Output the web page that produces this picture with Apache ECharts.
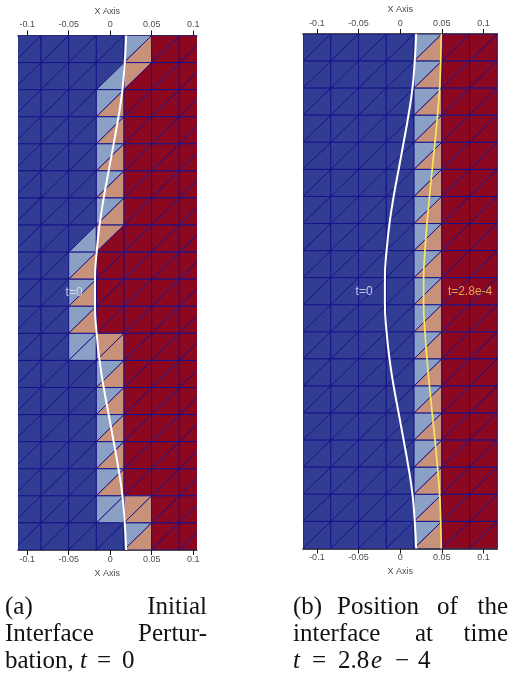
<!DOCTYPE html>
<html>
<head>
<meta charset="utf-8">
<script src="https://cdn.jsdelivr.net/npm/echarts@6/dist/echarts.min.js"></script>
<style>
html, body { margin: 0; padding: 0; background: #fff; }
#main { width: 509px; height: 691px; }
</style>
</head>
<body>
<div id="main"></div>
<script>
// tick labels on both x axes
var xTicks = [-0.1, -0.05, 0, 0.05, 0.1];
// mesh column boundaries (x) ; rows are unit steps 0..19, top to bottom
var colEdges = [-0.11667, -0.08333, -0.05, -0.01667, 0.01667, 0.05, 0.08333, 0.11667];
var rowCount = 19;
// two letters per cell: upper-left / lower-right triangle
// B = blue phase, R = red phase, L = light blue, T = tan (cut cells)
var cellsA = [
    'BBBBBBBBLTRRRR',
    'BBBBBBBLTRRRRR',
    'BBBBBBLTRRRRRR',
    'BBBBBBLTRRRRRR',
    'BBBBBBLTRRRRRR',
    'BBBBBBLTRRRRRR',
    'BBBBBBLTRRRRRR',
    'BBBBBLTRRRRRRR',
    'BBBBLTRRRRRRRR',
    'BBBBLTRRRRRRRR',
    'BBBBLTRRRRRRRR',
    'BBBBLLTTRRRRRR',
    'BBBBBBLTRRRRRR',
    'BBBBBBLTRRRRRR',
    'BBBBBBLTRRRRRR',
    'BBBBBBLTRRRRRR',
    'BBBBBBLTRRRRRR',
    'BBBBBBLLTTRRRR',
    'BBBBBBBBLTRRRR'
];
var cellsB = [];
for (var i = 0; i < rowCount; i++) cellsB.push('BBBBBBBBLTRRRR');

// interface curves, read at each mesh row line
var curveRows = [0, 1, 2, 3, 4, 5, 6, 7, 8, 9, 10, 11, 12, 13, 14, 15, 16, 17, 18, 19];
var initialX = [0.0193, 0.0175, 0.0148, 0.0100, 0.0042, -0.0018, -0.0078, -0.0128, -0.0163, -0.0183,
                -0.0183, -0.0163, -0.0128, -0.0078, -0.0018, 0.0042, 0.0100, 0.0148, 0.0175, 0.0193];
var laterX = [0.0494, 0.0487, 0.0474, 0.0449, 0.0418, 0.0385, 0.0352, 0.0322, 0.0298, 0.0282,
              0.0282, 0.0298, 0.0322, 0.0352, 0.0385, 0.0418, 0.0449, 0.0474, 0.0487, 0.0494];

var triColor = { B: '#313d92', R: '#8c0820', L: '#8aa0c4', T: '#c8917a' };
var edgeColor = '#17138a';

function buildCells(rows) {
    var out = [];
    rows.forEach(function (s, r) {
        for (var c = 0; c < s.length / 2; c++) {
            out.push([colEdges[c], r, colEdges[c + 1], s.charAt(2 * c), s.charAt(2 * c + 1)]);
        }
    });
    return out;
}

function curve(xs) {
    return xs.map(function (x, k) { return [x, curveRows[k]]; });
}

function renderCell(rows, params, api) {
    var x0 = api.value(0), r = api.value(1), x1 = api.value(2);
    var item = rows[params.dataIndex];
    var tl = api.coord([x0, r]), tr = api.coord([x1, r]);
    var bl = api.coord([x0, r + 1]), br = api.coord([x1, r + 1]);
    return {
        type: 'group',
        children: [
            { type: 'polygon', shape: { points: [tl, tr, bl] },
              style: { fill: triColor[item[3]], stroke: edgeColor, lineWidth: 1 } },
            { type: 'polygon', shape: { points: [bl, tr, br] },
              style: { fill: triColor[item[4]], stroke: edgeColor, lineWidth: 1 } }
        ]
    };
}

var tickFont = { color: '#4d4d4d', fontSize: 9, fontFamily: 'Liberation Sans' };

function edgeAxes(gridIndex, min, max) {
    var list = [];
    ['top', 'bottom'].forEach(function (pos) {
        list.push({
            type: 'value', gridIndex: gridIndex, position: pos, min: min, max: max,
            name: 'X Axis', nameLocation: 'middle', nameGap: pos === 'top' ? 19 : 18,
            nameTextStyle: tickFont,
            axisLine: { show: true, lineStyle: { color: '#111', width: 1.5 } },
            axisTick: { show: true, inside: false, length: 5, customValues: xTicks, lineStyle: { color: '#111' } },
            axisLabel: { show: true, margin: pos === 'top' ? 6 : 5, customValues: xTicks,
                         color: tickFont.color, fontSize: 9, fontFamily: tickFont.fontFamily,
                         formatter: function (v) { return String(+v.toFixed(2)); } },
            splitLine: { show: false }
        });
        list.push({
            type: 'value', gridIndex: gridIndex, position: pos, min: min, max: max,
            axisLine: { show: false },
            axisTick: { show: true, inside: true, length: 4, customValues: xTicks, lineStyle: { color: '#111' } },
            axisLabel: { show: false },
            splitLine: { show: false }
        });
    });
    return list;
}

var chart = echarts.init(document.getElementById('main'));

var cellDataA = buildCells(cellsA);
var cellDataB = buildCells(cellsB);

var option = {
    animation: false,
    grid: [
        { left: 18, top: 35.5, width: 178.7, height: 514.5 },
        { left: 303, top: 34, width: 194.3, height: 514.5 }
    ],
    xAxis: edgeAxes(0, -0.1111, 0.1043).concat(edgeAxes(1, -0.11667, 0.11667)),
    yAxis: [
        { type: 'value', gridIndex: 0, min: 0, max: rowCount, inverse: true, show: false },
        { type: 'value', gridIndex: 1, min: 0, max: rowCount, inverse: true, show: false }
    ],
    series: [
        {
            type: 'custom', xAxisIndex: 2, yAxisIndex: 0, clip: true,
            encode: { x: [0, 2], y: 1 },
            data: cellDataA,
            renderItem: function (params, api) { return renderCell(cellDataA, params, api); }
        },
        {
            type: 'custom', xAxisIndex: 6, yAxisIndex: 1, clip: true,
            encode: { x: [0, 2], y: 1 },
            data: cellDataB,
            renderItem: function (params, api) { return renderCell(cellDataB, params, api); }
        },
        {
            type: 'line', xAxisIndex: 2, yAxisIndex: 0, smooth: 0.5, symbol: 'none',
            lineStyle: { color: '#ffffff', width: 2 },
            data: curve(initialX)
        },
        {
            type: 'line', xAxisIndex: 6, yAxisIndex: 1, smooth: 0.5, symbol: 'none',
            lineStyle: { color: '#ffffff', width: 2 },
            data: curve(initialX)
        },
        {
            type: 'line', xAxisIndex: 6, yAxisIndex: 1, smooth: 0.5, symbol: 'none',
            lineStyle: { color: '#f8e45e', width: 1.7 },
            data: curve(laterX)
        },
        {
            type: 'scatter', xAxisIndex: 2, yAxisIndex: 0, symbolSize: 0,
            label: { show: true, position: 'inside', formatter: 't=0',
                     color: '#e6e9f2', fontSize: 12, fontFamily: 'Liberation Sans' },
            data: [[-0.0435, 9.5]]
        },
        {
            type: 'scatter', xAxisIndex: 6, yAxisIndex: 1, symbolSize: 0,
            label: { show: true, position: 'inside', formatter: function (p) { return p.name; },
                     color: '#e6e9f2', fontSize: 12, fontFamily: 'Liberation Sans' },
            data: [
                { name: 't=0', value: [-0.0433, 9.5] },
                { name: 't=2.8e-4', value: [0.084, 9.5], label: { color: '#f2cf5a' } }
            ]
        }
    ],
    graphic: (function () {
        function t(x, y, text, align, italic) {
            return { type: 'text', x: x, y: y, silent: true,
                     style: { text: text, textAlign: align || 'left', textVerticalAlign: 'middle',
                              fontFamily: 'Liberation Serif', fontSize: 25, fill: '#111',
                              fontStyle: italic ? 'italic' : 'normal' } };
        }
        return [
            t(5, 607, '(a)'), t(207, 607, 'Initial', 'right'),
            t(5, 634, 'Interface'), t(207, 634, 'Pertur-', 'right'),
            t(5, 661, 'bation,'), t(80, 661, 't', 'left', true), t(97, 661, '='), t(122, 661, '0'),
            t(293, 607, '(b)'), t(337, 607, 'Position'), t(437, 607, 'of'), t(508, 607, 'the', 'right'),
            t(293, 634, 'interface'), t(424, 634, 'at', 'center'), t(508, 634, 'time', 'right'),
            t(293, 661, 't', 'left', true), t(312, 661, '='), t(338, 661, '2.8'),
            t(371, 661, 'e', 'left', true), t(395, 661, '\u2212'), t(418, 661, '4')
        ];
    })()
};

chart.setOption(option);
window.addEventListener('resize', function () {
    chart.resize();
});
</script>
</body>
</html>
